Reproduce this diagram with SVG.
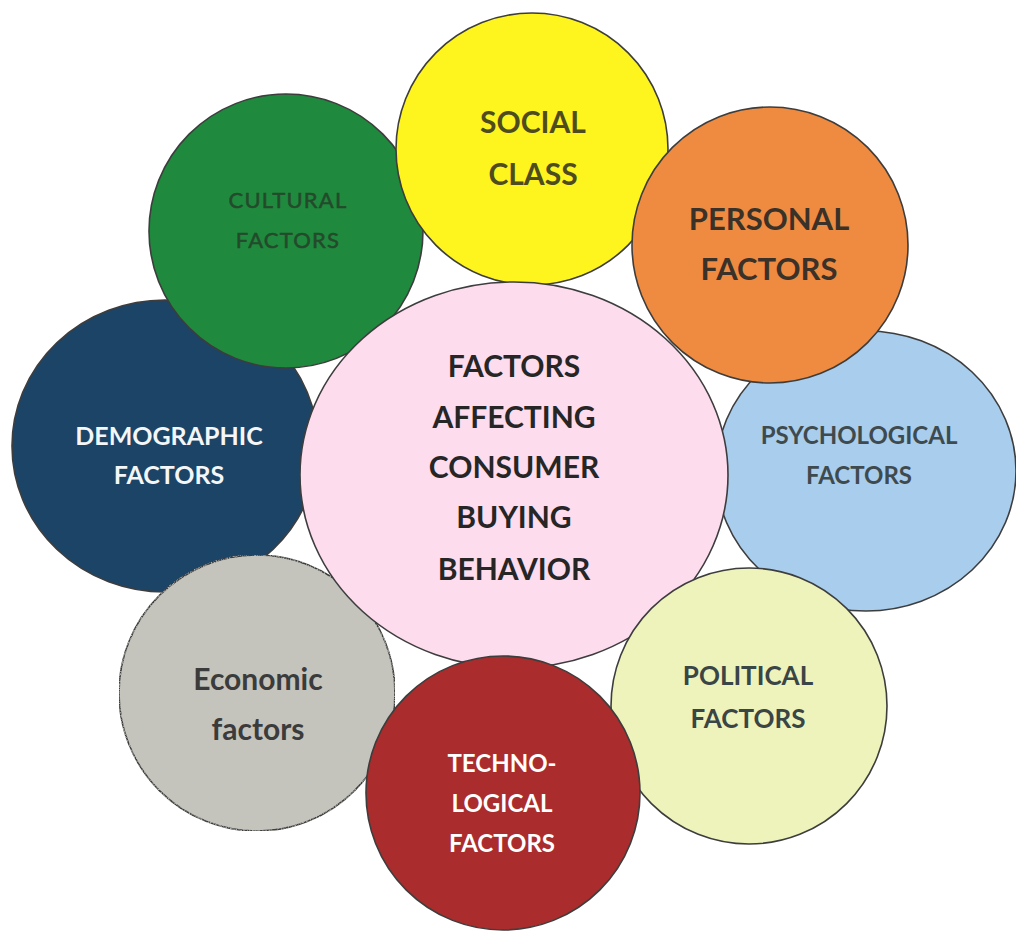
<svg xmlns="http://www.w3.org/2000/svg" width="1016" height="932" viewBox="0 0 1016 932">
  <defs>
    <style>
      .c { stroke: #3d3d3d; stroke-width: 1.6; }
      .t { font-family: Lato, "Open Sans", "Liberation Sans", sans-serif; font-weight: 700; text-anchor: middle; }
      .soft { font-weight: 400; stroke-width: 0.5; }
    </style>
    <!-- fine grain for the stone-grey disc -->
    <filter id="grain" x="0" y="0" width="100%" height="100%">
      <feTurbulence type="fractalNoise" baseFrequency="0.85" numOctaves="2" seed="3" result="n"/>
      <feColorMatrix in="n" type="matrix" values="0 0 0 0 0.55  0 0 0 0 0.55  0 0 0 0 0.52  2.2 0 0 0 -0.95" result="g"/>
      <feComposite in="g" in2="SourceGraphic" operator="in" result="gc"/>
      <feMerge><feMergeNode in="SourceGraphic"/><feMergeNode in="gc"/></feMerge>
    </filter>
  </defs>
  <rect width="1016" height="932" fill="#ffffff"/>

  <g id="connectors"></g>

  <g id="demographic">
    <ellipse class="c" cx="165" cy="446" rx="153" ry="146" fill="#1c4467"/>
    <text class="t" font-size="25" fill="#f4f6f8"><tspan x="169" y="445">DEMOGRAPHIC</tspan><tspan x="169" y="484">FACTORS</tspan></text>
  </g>

  <g id="cultural">
    <circle class="c" cx="286" cy="231" r="137" fill="#1f8a3d"/>
    <text class="t soft" font-size="22" letter-spacing="1.2" fill="#24492b" stroke="#24492b"><tspan x="288" y="208">CULTURAL</tspan><tspan x="288" y="248">FACTORS</tspan></text>
  </g>

  <g id="social">
    <circle class="c" cx="532" cy="149" r="136" fill="#fff51e"/>
    <text class="t" font-size="30" fill="#4e4c1f"><tspan x="533" y="133">SOCIAL</tspan><tspan x="533" y="185">CLASS</tspan></text>
  </g>

  <g id="psychological">
    <ellipse class="c" cx="866" cy="471" rx="150" ry="140" fill="#a9cdec"/>
    <text class="t" font-size="24" fill="#3f4a4e"><tspan x="859" y="444">PSYCHOLOGICAL</tspan><tspan x="859" y="484">FACTORS</tspan></text>
  </g>

  <g id="economic">
    <circle class="c" cx="257" cy="693" r="138" fill="#c4c4bc" filter="url(#grain)"/>
    <text class="t" font-size="30" fill="#3b3b3b"><tspan x="258" y="690">Economic</tspan><tspan x="258" y="740">factors</tspan></text>
  </g>

  <g id="center">
    <ellipse class="c" cx="514" cy="475" rx="214" ry="193" fill="#fddcee"/>
    <text class="t" font-size="30" fill="#262626"><tspan x="514" y="377">FACTORS</tspan><tspan x="514" y="428">AFFECTING</tspan><tspan x="514" y="478">CONSUMER</tspan><tspan x="514" y="528">BUYING</tspan><tspan x="514" y="580">BEHAVIOR</tspan></text>
  </g>

  <g id="personal">
    <circle class="c" cx="770" cy="245" r="138" fill="#ee8b40"/>
    <text class="t" font-size="31" fill="#3a3129"><tspan x="769" y="230">PERSONAL</tspan><tspan x="769" y="280">FACTORS</tspan></text>
  </g>

  <g id="political">
    <circle class="c" cx="749" cy="706" r="138" fill="#eef3bb"/>
    <text class="t" font-size="26" fill="#3a4546"><tspan x="748" y="685">POLITICAL</tspan><tspan x="748" y="728">FACTORS</tspan></text>
  </g>

  <g id="technological">
    <circle class="c" cx="503" cy="793" r="137" fill="#ab2c2c"/>
    <text class="t" font-size="24" fill="#ffffff"><tspan x="502" y="772">TECHNO-</tspan><tspan x="502" y="812">LOGICAL</tspan><tspan x="502" y="852">FACTORS</tspan></text>
  </g>
</svg>
